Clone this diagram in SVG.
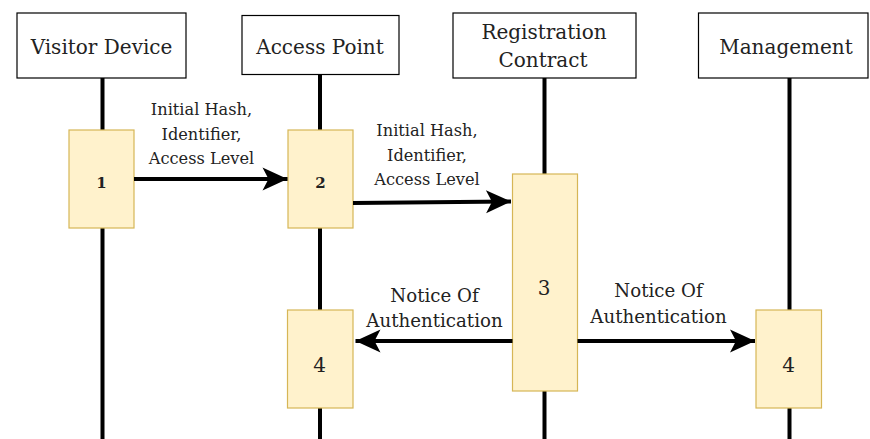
<svg xmlns="http://www.w3.org/2000/svg" width="870" height="439" viewBox="0 0 870 439">
<defs>
<style>
text{font-family:"DejaVu Serif",serif;fill:#222;text-anchor:middle}
.hdr rect{fill:#fff;stroke:#000;stroke-width:1.2}
.hdr text{font-size:20px}
.act rect{fill:#fff2cc;stroke:#d6b656;stroke-width:1.2}
.life{stroke:#000;stroke-width:4;fill:none}
.msg{stroke:#000;stroke-width:4;fill:none;marker-end:url(#ah)}
.lbl{font-size:16.2px}
.lbl2{font-size:18.2px}
.n1{font-size:15px;font-weight:bold}
.n2{font-size:20px}
</style>
<marker id="ah" markerUnits="userSpaceOnUse" viewBox="-26 -12 27 24" refX="0" refY="0" markerWidth="27" markerHeight="24" orient="auto">
<path d="M0,0 L-25,-11.5 L-19,0 L-25,11.5 Z" fill="#000"/>
</marker>
</defs>
<g id="lifelines">
<line class="life" x1="102.5" y1="78" x2="102.5" y2="439"/>
<line class="life" x1="320" y1="74" x2="320" y2="439"/>
<line class="life" x1="544.5" y1="78" x2="544.5" y2="439"/>
<line class="life" x1="789.5" y1="78" x2="789.5" y2="439"/>
</g>
<g id="visitor" class="hdr"><rect x="17" y="13" width="169" height="65"/><text x="101.5" y="54">Visitor Device</text></g>
<g id="access" class="hdr"><rect x="242" y="15.5" width="157" height="59"/><text x="320" y="54">Access Point</text></g>
<g id="registration" class="hdr"><rect x="453" y="13" width="183" height="65"/><text x="544" y="39">Registration</text><text x="543" y="67">Contract</text></g>
<g id="management" class="hdr"><rect x="698.5" y="13" width="169.5" height="65"/><text x="786" y="54">Management</text></g>
<g id="act1" class="act"><rect x="69" y="130" width="65" height="98"/><text class="n1" x="101.5" y="188">1</text></g>
<g id="act2" class="act"><rect x="288" y="130" width="65" height="98"/><text class="n1" x="320.5" y="188">2</text></g>
<g id="act3" class="act"><rect x="512.5" y="174" width="65" height="217"/><text class="n2" x="544" y="295">3</text></g>
<g id="act4a" class="act"><rect x="287.5" y="310" width="65.5" height="98"/><text class="n2" x="319.5" y="372">4</text></g>
<g id="act4b" class="act"><rect x="756" y="310" width="65.5" height="98"/><text class="n2" x="788.5" y="372">4</text></g>
<g id="connectors">
<line class="msg" x1="134" y1="179" x2="287.5" y2="179"/>
<line class="msg" x1="353" y1="203" x2="511" y2="201.5"/>
<line class="msg" x1="512.5" y1="341" x2="355.5" y2="341"/>
<line class="msg" x1="577.5" y1="341" x2="755" y2="341"/>
<text class="lbl" x="201.5" y="115">Initial Hash,</text>
<text class="lbl" x="201.5" y="139.5">Identifier,</text>
<text class="lbl" x="201.5" y="164">Access Level</text>
<text class="lbl" x="427" y="136">Initial Hash,</text>
<text class="lbl" x="427" y="160.5">Identifier,</text>
<text class="lbl" x="427" y="185">Access Level</text>
<text class="lbl2" x="434.5" y="301.5">Notice Of</text>
<text class="lbl2" x="434.5" y="327">Authentication</text>
<text class="lbl2" x="658.5" y="297">Notice Of</text>
<text class="lbl2" x="658.5" y="322.5">Authentication</text>
</g>
</svg>
